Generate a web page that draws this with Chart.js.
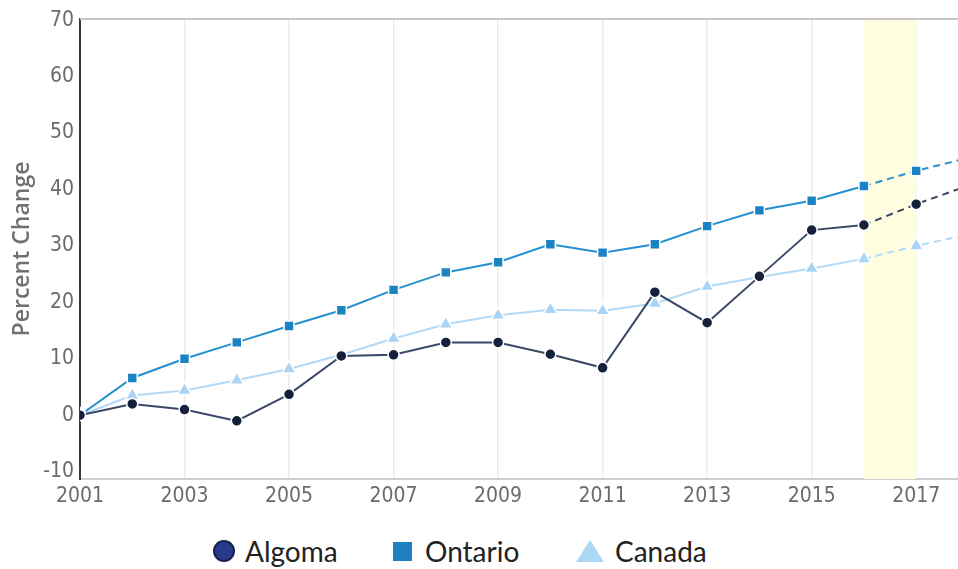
<!doctype html>
<html lang="en">
<head>
    <meta charset="UTF-8">
    <title>Percent Change</title>
    <style>
        html, body {
            margin: 0;
            padding: 0;
            background: #fff;
        }
        .chart-box {
            position: relative;
            width: 958px;
            height: 520px;
        }
        .legend {
            display: flex;
            align-items: center;
            height: 49px;
            font-family: 'Lato', sans-serif;
            font-size: 28px;
            color: #222;
        }
        .legend span.item {
            display: flex;
            align-items: center;
            position: absolute;
            top: 534px;
        }
        .mark {
            display: inline-block;
            margin-right: 10px;
        }
        .mark.circle {
            width: 18px;
            height: 18px;
            border-radius: 50%;
            background: #263b8b;
            border: 2px solid #17224d;
        }
        .mark.square {
            width: 19px;
            height: 19px;
            background: #1f80c0;
            margin-right: 13px;
        }
        .mark.triangle {
            width: 0;
            height: 0;
            border-left: 14px solid transparent;
            border-right: 14px solid transparent;
            border-bottom: 22px solid #acd8f5;
            margin-right: 11px;
        }
    </style>
</head>
<body>
    <div class="chart-box">
        <canvas id="myChart"></canvas>
    </div>
    <div class="legend">
        <span class="item" style="left: 213px;"><i class="mark circle"></i>Algoma</span>
        <span class="item" style="left: 393px;"><i class="mark square"></i>Ontario</span>
        <span class="item" style="left: 576px;"><i class="mark triangle"></i>Canada</span>
    </div>

    <script src="https://cdn.jsdelivr.net/npm/chart.js@4.4.1/dist/chart.umd.min.js"></script>
    <script>
        var years = [2001, 2002, 2003, 2004, 2005, 2006, 2007, 2008, 2009, 2010, 2011, 2012, 2013, 2014, 2015, 2016, 2017, 2018];
        var algoma = [0, 2, 1, -1, 3.7, 10.5, 10.7, 12.9, 12.9, 10.8, 8.4, 21.8, 16.4, 24.6, 32.8, 33.7, 37.4, 40.7];
        var ontario = [0, 6.6, 10, 12.9, 15.8, 18.6, 22.2, 25.3, 27.1, 30.3, 28.8, 30.3, 33.5, 36.3, 38, 40.6, 43.3, 45.6];
        var canada = [0, 3.5, 4.4, 6.2, 8.2, 10.7, 13.6, 16.1, 17.7, 18.7, 18.5, 19.8, 22.8, 24.5, 26, 27.7, 30, 32];
        var xTicks = [2001, 2003, 2005, 2007, 2009, 2011, 2013, 2015, 2017];
        var yTicks = [-10, 0, 10, 20, 30, 40, 50, 60, 70];
        var projectedFrom = 2016; // lines are dashed from here on
        var highlight = [2016, 2017];

        function points(values) {
            return values.map(function (v, i) { return { x: years[i], y: v }; });
        }

        // dashed segments for projected years
        var dashed = function (ctx) {
            return ctx.p0.parsed.x >= projectedFrom ? [7, 5] : undefined;
        };

        // yellow band behind the projected year + top frame line
        var bandPlugin = {
            id: 'band',
            beforeDatasetsDraw: function (chart) {
                var c = chart.ctx, area = chart.chartArea, x = chart.scales.x;
                var x0 = x.getPixelForValue(highlight[0]);
                var x1 = x.getPixelForValue(highlight[1]);
                c.save();
                c.fillStyle = '#fefddf';
                c.fillRect(x0, area.top, x1 - x0, area.bottom - area.top);
                c.strokeStyle = '#c8c8c8';
                c.lineWidth = 2;
                c.beginPath();
                c.moveTo(area.left, area.top);
                c.lineTo(area.right, area.top);
                c.stroke();
                c.restore();
            }
        };

        var tickFont = { family: "'Liberation Sans Narrow', 'DejaVu Sans Condensed', sans-serif", size: 21 };

        var ctx = document.getElementById('myChart').getContext('2d');
        var chart = new Chart(ctx, {
            type: 'line',
            data: {
                // first dataset is drawn on top
                datasets: [{
                    label: 'Algoma',
                    data: points(algoma),
                    borderColor: '#3a4766',
                    borderWidth: 2,
                    pointStyle: 'circle',
                    pointRadius: 5.5,
                    pointBackgroundColor: '#15213b',
                    pointBorderColor: '#fff',
                    pointBorderWidth: 1.5,
                    segment: { borderDash: dashed }
                }, {
                    label: 'Ontario',
                    data: points(ontario),
                    borderColor: '#2590cf',
                    borderWidth: 2,
                    pointStyle: 'rect',
                    pointRadius: 7,
                    pointBackgroundColor: '#1a83c4',
                    pointBorderColor: '#fff',
                    pointBorderWidth: 1.5,
                    segment: { borderDash: dashed }
                }, {
                    label: 'Canada',
                    data: points(canada),
                    borderColor: '#b2daf7',
                    borderWidth: 2,
                    pointStyle: 'triangle',
                    pointRadius: 8,
                    pointBackgroundColor: '#a9d4f5',
                    pointBorderColor: '#fff',
                    pointBorderWidth: 1.5,
                    segment: { borderDash: dashed }
                }]
            },
            options: {
                responsive: true,
                maintainAspectRatio: false,
                animation: false,
                layout: { autoPadding: false, padding: { top: 19, right: 0, bottom: 0, left: 0 } },
                plugins: {
                    legend: { display: false },
                    tooltip: { enabled: false }
                },
                scales: {
                    x: {
                        type: 'linear',
                        min: 2001,
                        max: 2017.8,
                        afterBuildTicks: function (axis) {
                            axis.ticks = xTicks.map(function (v) { return { value: v }; });
                        },
                        afterFit: function (axis) {
                            axis.height = 41;
                            axis.paddingRight = 0;
                        },
                        ticks: {
                            color: '#6b6b6b',
                            font: tickFont,
                            padding: 5,
                            maxRotation: 0,
                            callback: function (v) { return String(v); }
                        },
                        grid: { color: '#ebebeb', lineWidth: 1.5, drawTicks: false },
                        border: { color: '#cfcfcf', width: 2 }
                    },
                    y: {
                        min: -11.3,
                        max: 70.2,
                        afterBuildTicks: function (axis) {
                            axis.ticks = yTicks.map(function (v) { return { value: v }; });
                        },
                        afterFit: function (axis) { axis.width = 80; },
                        ticks: {
                            color: '#6b6b6b',
                            font: tickFont,
                            padding: 6
                        },
                        grid: { display: false, drawTicks: false },
                        border: { color: '#3a3a3a', width: 2 },
                        title: {
                            display: true,
                            text: 'Percent Change',
                            color: '#707070',
                            font: { family: "'Open Sans', sans-serif", size: 23, weight: '600' },
                            padding: { top: 9, bottom: 10 }
                        }
                    }
                }
            },
            plugins: [bandPlugin]
        });
    </script>
</body>
</html>
